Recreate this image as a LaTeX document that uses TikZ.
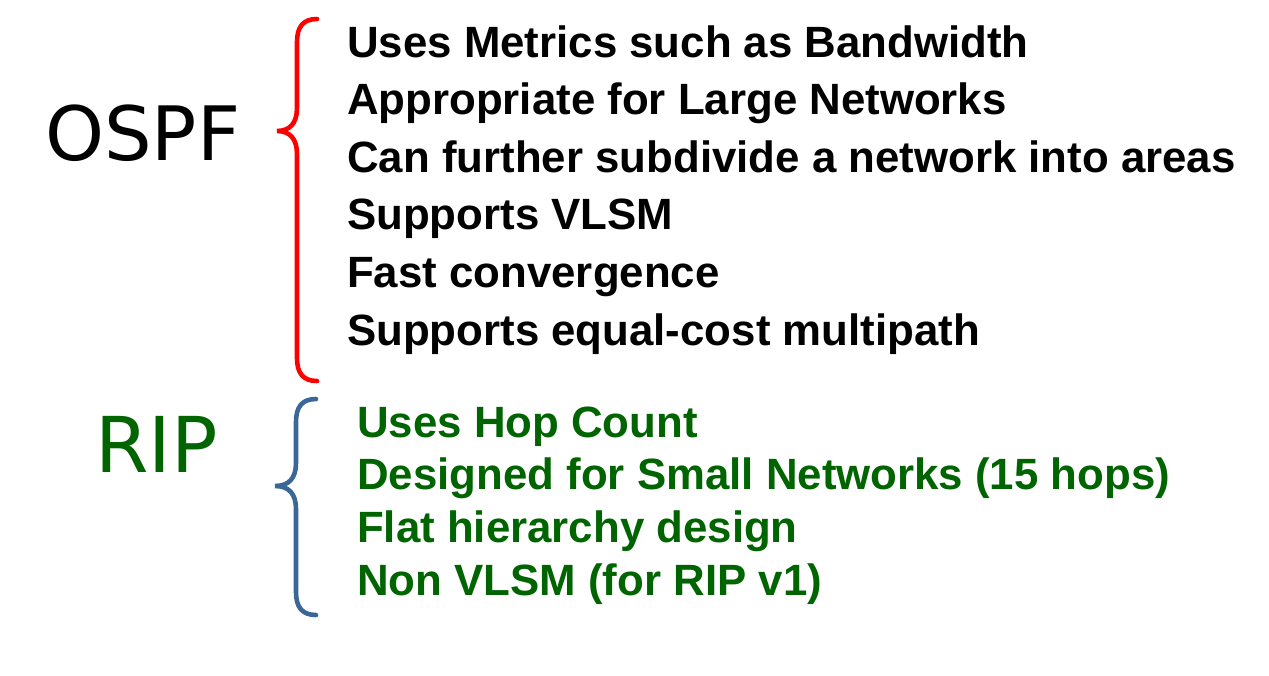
\documentclass[tikz,border=0pt]{standalone}
\usepackage{fontspec}
\setmainfont{Liberation Sans}
\newfontfamily\titlefont{DejaVu Sans}
\definecolor{ripgreen}{RGB}{0,100,0}
\definecolor{ripblue}{RGB}{58,103,152}
\definecolor{ospfred}{RGB}{255,0,0}
\tikzset{
    brc/.style={line width=4.6pt, line cap=round},
    proto/.style={anchor=base west, inner sep=0pt, font=\titlefont\fontsize{75}{75}\selectfont},
    feat/.style={anchor=base west, inner sep=0pt, font=\bfseries\fontsize{43.8}{43.8}\selectfont},
}

\begin{document}
\begin{tikzpicture}[x=1pt, y=-1pt]
    \useasboundingbox (0,0) rectangle (1269,675);
    % protocol names
    \node[proto] (ospf) at (45,160) {OSPF};
    \node[proto, text=ripgreen, font=\titlefont\fontsize{77}{77}\selectfont] (rip) at (95,472) {RIP};
    % braces
    \draw[brc, ospfred] (317,19) .. controls (303,19) and (297,27) .. (297,42) -- (297,108) .. controls (297,123) and (290,131) .. (277,131) .. controls (290,131) and (297,139) .. (297,154) -- (297,358) .. controls (297,373) and (303,381) .. (317,381);
    \draw[brc, ripblue] (316,399) .. controls (302,399) and (296,407) .. (296,422) -- (296,463) .. controls (296,478) and (289,486) .. (275,486) .. controls (289,486) and (296,494) .. (296,509) -- (296,592) .. controls (296,607) and (302,615) .. (316,615);
    % OSPF features
    \node[feat] (o1) at (347,57) {Uses Metrics such as Bandwidth};
    \node[feat] (o2) at (347,114.6) {Appropriate for Large Networks};
    \node[feat] (o3) at (347,172.2) {Can further subdivide a network into areas};
    \node[feat] (o4) at (347,229.8) {Supports VLSM};
    \node[feat] (o5) at (347,287.4) {Fast convergence};
    \node[feat] (o6) at (347,345) {Supports equal-cost multipath};
    % RIP features
    \node[feat, text=ripgreen] (r1) at (357,437) {Uses Hop Count};
    \node[feat, text=ripgreen] (r2) at (357,489.7) {Designed for Small Networks (15 hops)};
    \node[feat, text=ripgreen] (r3) at (357,542.4) {Flat hierarchy design};
    \node[feat, text=ripgreen] (r4) at (357,595) {Non VLSM (for RIP v1)};
\end{tikzpicture}
\end{document}
